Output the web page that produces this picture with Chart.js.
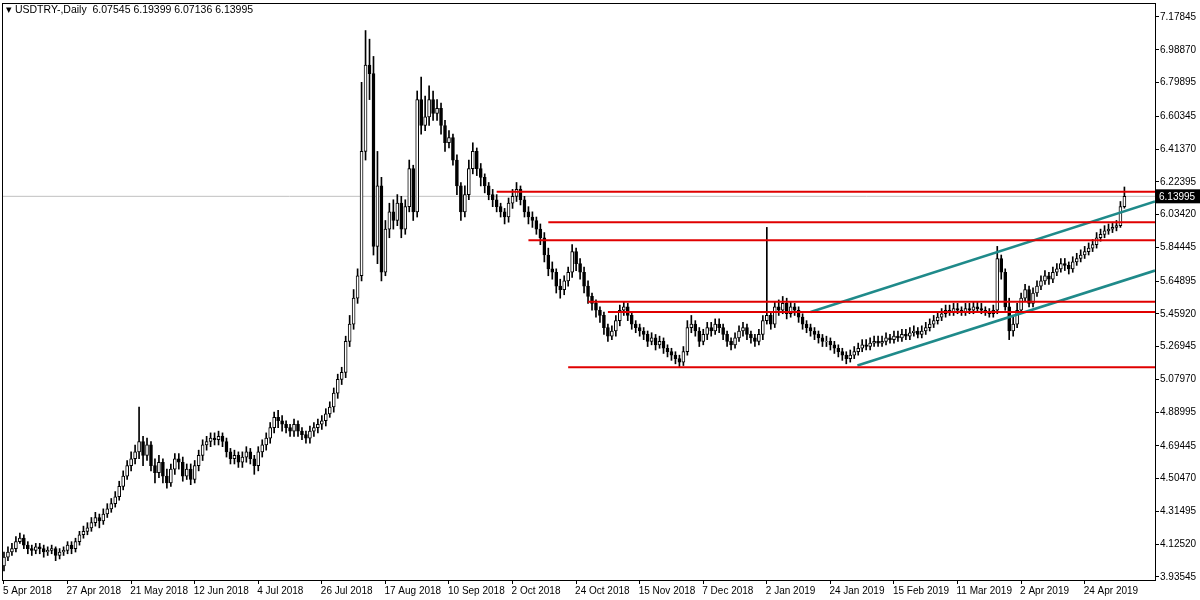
<!DOCTYPE html><html><head><meta charset="utf-8">
<script src="https://cdn.jsdelivr.net/npm/chart.js@4"></script>
<style>html,body{margin:0;background:#fff}#w{position:relative;width:1200px;height:600px}
#t{position:absolute;left:6px;top:3px;font:10.5px "Liberation Sans",Arial,sans-serif;color:#000}</style></head><body>
<div id="w"><canvas id="c" width="1200" height="600"></canvas><div id="t">▾ USDTRY-,Daily&nbsp; 6.07545 6.19399 6.07136 6.13995</div></div>
<script>
const tickLabels=['5 Apr 2018','27 Apr 2018','21 May 2018','12 Jun 2018','4 Jul 2018','26 Jul 2018','17 Aug 2018','10 Sep 2018','2 Oct 2018','24 Oct 2018','15 Nov 2018','7 Dec 2018','2 Jan 2019','24 Jan 2019','15 Feb 2019','11 Mar 2019','2 Apr 2019','24 Apr 2019'];
const priceTicks=[7.17845,6.98870,6.79895,6.60345,6.41370,6.22395,6.03420,5.84445,5.64895,5.45920,5.26945,5.07970,4.88995,4.69445,4.50470,4.31495,4.12520,3.93545];
const firstOpen=4.00;
const closes=[4.05,4.08,4.10,4.14,4.16,4.12,4.10,4.09,4.11,4.10,
4.08,4.09,4.10,4.06,4.08,4.09,4.12,4.10,4.14,4.18,
4.20,4.22,4.25,4.28,4.26,4.30,4.33,4.36,4.40,4.46,
4.52,4.58,4.62,4.66,4.72,4.64,4.70,4.58,4.54,4.60,
4.52,4.48,4.56,4.62,4.60,4.52,4.56,4.50,4.58,4.64,
4.70,4.72,4.74,4.73,4.75,4.72,4.66,4.62,4.64,4.60,
4.63,4.66,4.62,4.58,4.66,4.70,4.74,4.80,4.86,4.84,
4.82,4.80,4.78,4.82,4.78,4.76,4.74,4.78,4.80,4.82,
4.84,4.88,4.92,5.00,5.08,5.12,5.30,5.40,5.55,5.68,
6.40,6.90,6.85,5.85,6.20,5.70,5.95,6.05,6.00,6.10,
5.95,6.08,6.30,6.05,6.70,6.55,6.60,6.70,6.62,6.65,
6.55,6.45,6.48,6.35,6.20,6.05,6.15,6.30,6.40,6.30,
6.25,6.20,6.15,6.12,6.08,6.05,6.02,6.10,6.14,6.18,
6.12,6.05,6.02,6.00,5.95,5.90,5.80,5.72,5.70,5.62,
5.60,5.65,5.70,5.82,5.75,5.70,5.62,5.56,5.52,5.48,
5.45,5.38,5.33,5.36,5.42,5.48,5.50,5.45,5.40,5.38,
5.36,5.34,5.30,5.32,5.28,5.30,5.26,5.24,5.22,5.20,
5.18,5.24,5.38,5.40,5.36,5.30,5.34,5.38,5.36,5.40,
5.38,5.34,5.30,5.28,5.32,5.36,5.38,5.34,5.32,5.30,
5.34,5.42,5.45,5.40,5.50,5.48,5.52,5.46,5.50,5.48,
5.44,5.40,5.38,5.36,5.34,5.32,5.30,5.30,5.28,5.26,
5.24,5.22,5.20,5.22,5.24,5.26,5.28,5.27,5.29,5.30,
5.29,5.30,5.32,5.31,5.33,5.32,5.34,5.33,5.35,5.36,
5.34,5.36,5.38,5.40,5.42,5.44,5.46,5.48,5.47,5.49,
5.48,5.47,5.49,5.48,5.50,5.49,5.48,5.47,5.46,5.48,
5.78,5.70,5.50,5.36,5.40,5.48,5.55,5.60,5.52,5.58,
5.62,5.65,5.68,5.66,5.70,5.72,5.75,5.74,5.72,5.76,
5.78,5.80,5.82,5.84,5.86,5.90,5.92,5.94,5.95,5.96,
5.97,6.08,6.13995];
const highs=[4.08,4.11,4.13,4.17,4.19,4.18,4.14,4.12,4.13,4.13,
4.12,4.11,4.12,4.11,4.10,4.11,4.14,4.14,4.16,4.20,
4.23,4.25,4.28,4.31,4.30,4.33,4.36,4.39,4.43,4.49,
4.55,4.61,4.66,4.70,4.92,4.75,4.74,4.72,4.62,4.64,
4.62,4.56,4.59,4.65,4.65,4.63,4.59,4.59,4.61,4.67,
4.73,4.75,4.77,4.77,4.78,4.77,4.74,4.68,4.67,4.66,
4.66,4.69,4.68,4.64,4.69,4.73,4.77,4.83,4.89,4.90,
4.87,4.84,4.82,4.85,4.84,4.80,4.78,4.81,4.83,4.85,
4.87,4.91,4.95,5.03,5.11,5.15,5.33,5.45,5.60,5.72,
6.80,7.10,7.05,6.95,6.40,6.25,6.00,6.10,6.12,6.15,
6.14,6.12,6.35,6.32,6.75,6.83,6.72,6.78,6.75,6.70,
6.68,6.58,6.52,6.50,6.38,6.22,6.20,6.35,6.45,6.42,
6.33,6.27,6.22,6.18,6.15,6.10,6.07,6.13,6.18,6.22,
6.20,6.14,6.08,6.05,6.02,5.98,5.93,5.84,5.76,5.72,
5.66,5.68,5.73,5.86,5.84,5.78,5.73,5.65,5.58,5.54,
5.50,5.47,5.40,5.39,5.45,5.51,5.53,5.52,5.47,5.42,
5.40,5.38,5.36,5.35,5.34,5.33,5.32,5.28,5.26,5.24,
5.22,5.27,5.42,5.45,5.42,5.38,5.37,5.41,5.41,5.43,
5.43,5.40,5.36,5.32,5.35,5.39,5.41,5.40,5.36,5.34,
5.37,5.45,5.96,5.47,5.53,5.54,5.56,5.55,5.53,5.52,
5.50,5.46,5.42,5.40,5.38,5.36,5.34,5.33,5.32,5.30,
5.28,5.26,5.24,5.25,5.27,5.29,5.31,5.31,5.32,5.33,
5.33,5.33,5.35,5.34,5.36,5.36,5.37,5.37,5.38,5.39,
5.38,5.39,5.41,5.43,5.45,5.47,5.49,5.51,5.51,5.52,
5.52,5.50,5.52,5.52,5.53,5.53,5.52,5.50,5.49,5.51,
5.85,5.80,5.72,5.55,5.45,5.52,5.58,5.63,5.62,5.61,
5.65,5.68,5.71,5.70,5.73,5.75,5.78,5.78,5.76,5.79,
5.81,5.83,5.85,5.87,5.89,5.93,5.95,5.97,5.98,5.99,
6.00,6.11,6.19399];
const lows=[3.97,4.03,4.06,4.08,4.13,4.10,4.07,4.06,4.07,4.07,
4.05,4.06,4.07,4.03,4.04,4.06,4.07,4.07,4.08,4.12,
4.16,4.18,4.20,4.23,4.22,4.24,4.28,4.31,4.34,4.38,
4.44,4.50,4.55,4.59,4.62,4.58,4.61,4.55,4.48,4.51,
4.48,4.45,4.46,4.53,4.56,4.49,4.50,4.47,4.48,4.55,
4.61,4.67,4.69,4.70,4.70,4.69,4.63,4.59,4.59,4.57,
4.57,4.60,4.59,4.53,4.55,4.63,4.67,4.71,4.77,4.80,
4.78,4.77,4.75,4.75,4.75,4.73,4.71,4.71,4.75,4.77,
4.79,4.81,4.86,4.89,4.97,5.05,5.09,5.27,5.37,5.52,
5.65,6.35,6.70,5.80,5.75,5.65,5.68,5.90,5.95,5.97,
5.90,5.92,6.05,6.00,6.02,6.50,6.52,6.55,6.58,6.58,
6.50,6.40,6.42,6.32,6.15,6.00,6.02,6.12,6.27,6.26,
6.20,6.16,6.12,6.08,6.05,6.02,5.98,5.99,6.07,6.11,
6.09,6.02,5.98,5.96,5.92,5.86,5.76,5.68,5.66,5.58,
5.55,5.57,5.62,5.67,5.71,5.66,5.58,5.52,5.48,5.44,
5.41,5.34,5.30,5.31,5.33,5.39,5.45,5.42,5.37,5.35,
5.33,5.31,5.27,5.28,5.25,5.26,5.23,5.21,5.19,5.17,
5.15,5.16,5.22,5.35,5.33,5.27,5.28,5.31,5.33,5.34,
5.35,5.31,5.27,5.25,5.26,5.30,5.33,5.31,5.29,5.27,
5.28,5.31,5.40,5.37,5.38,5.45,5.46,5.43,5.44,5.45,
5.41,5.37,5.35,5.33,5.31,5.29,5.27,5.27,5.25,5.23,
5.21,5.19,5.17,5.18,5.20,5.22,5.24,5.25,5.25,5.27,
5.27,5.27,5.28,5.29,5.29,5.30,5.30,5.31,5.31,5.33,
5.32,5.32,5.34,5.36,5.38,5.40,5.42,5.44,5.45,5.45,
5.46,5.45,5.45,5.46,5.46,5.47,5.46,5.45,5.44,5.44,
5.46,5.66,5.48,5.31,5.33,5.38,5.46,5.53,5.50,5.50,
5.56,5.60,5.63,5.63,5.64,5.68,5.70,5.71,5.69,5.70,
5.74,5.76,5.78,5.80,5.82,5.84,5.88,5.90,5.92,5.93,
5.94,5.96,6.07136];
// support/resistance levels: [price, start index]
const redLevels=[[6.166,124],[5.99,137],[5.885,132],[5.53,147],[5.47,152],[5.15,142]];
// channel lines: [[index,price],[index,price]]
const channelUpper=[[203,5.47],[289.7,6.11]];
const channelLower=[[214.8,5.16],[289.7,5.71]];
const lastPrice=6.13995;
const XMAX=289.7;
const FONT='10px "Liberation Sans",Arial,sans-serif';

const opens=closes.map((c,i)=>i===0?firstOpen:closes[i-1]);
const wick=closes.map((c,i)=>({x:i,y:[lows[i],highs[i]]}));
const body=closes.map((c,i)=>({x:i,y:[Math.min(opens[i],c),Math.max(opens[i],c)+0.0001]}));
const bodyFill=closes.map((c,i)=>c>=opens[i]?'#fff':'#000');
const ds=[
 {type:'bar',data:wick,backgroundColor:'#000',barThickness:1,grouped:false,order:3},
 {type:'bar',data:body,backgroundColor:bodyFill,borderColor:'#000',borderWidth:1,borderSkipped:false,barThickness:3,grouped:false,order:2},
 {type:'line',data:[{x:-1,y:lastPrice},{x:XMAX,y:lastPrice}],borderColor:'#c0c0c0',borderWidth:1,pointRadius:0,order:5}
];
redLevels.forEach(([p,s])=>ds.push({type:'line',data:[{x:s,y:p},{x:XMAX,y:p}],borderColor:'#e00000',borderWidth:2,pointRadius:0,order:1}));
[channelUpper,channelLower].forEach(l=>ds.push({type:'line',data:l.map(([x,y])=>({x,y})),borderColor:'#1f8a8a',borderWidth:2.5,pointRadius:0,order:1}));

const boxPlugin={id:'box',afterDraw(ch){const c=ch.ctx,a=ch.chartArea,xs=ch.scales.x,y=ch.scales.y.getPixelForValue(lastPrice),r=a.right;
c.save();c.strokeStyle='#000';c.lineWidth=1;c.strokeRect(a.left+0.5,a.top+0.5,a.right-a.left,a.bottom-a.top);
c.font=FONT;c.fillStyle='#000';c.textBaseline='top';
tickLabels.forEach((t,i)=>c.fillText(t,xs.getPixelForValue(i*16)-1,a.bottom+6));
c.fillRect(r+1,y-7,44,14);c.fillStyle='#fff';c.textBaseline='middle';c.fillText(lastPrice.toFixed(5),r+4,y+0.5);c.restore();}};
new Chart(document.getElementById('c'),{data:{datasets:ds},plugins:[boxPlugin],
options:{animation:false,responsive:false,layout:{padding:{top:3,left:2,right:0,bottom:0}},
plugins:{legend:{display:false},tooltip:{enabled:false}},
scales:{
 x:{type:'linear',offset:false,min:-0.5,max:XMAX,grid:{offset:false,drawOnChartArea:false,tickLength:4,color:'#000'},border:{color:'#000'},
  afterBuildTicks(a){a.ticks=tickLabels.map((t,i)=>({value:i*16}));},
  afterFit(a){a.paddingLeft=0;a.paddingRight=0;a.height=20;},
  ticks:{display:false}},
 y:{position:'right',min:3.918,max:7.2595,grid:{drawOnChartArea:false,tickLength:4,color:'#000'},border:{color:'#000'},
  afterBuildTicks(a){a.ticks=priceTicks.map(v=>({value:v}));},
  afterFit(a){a.width=45;a.paddingTop=0;a.paddingBottom=0;},
  ticks:{color:'#000',font:{size:10,family:'"Liberation Sans",Arial,sans-serif'},padding:1,callback:v=>v.toFixed(5)}}
}}});
</script></body></html>
